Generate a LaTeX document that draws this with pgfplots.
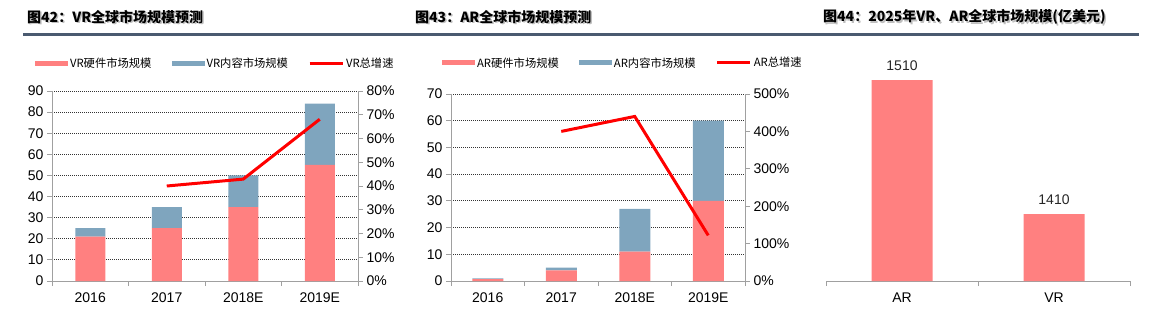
\documentclass[border=0pt]{standalone}
\usepackage{pgfplots}
\pgfplotsset{compat=1.18}
\usepackage{fontspec}
\setmainfont{Liberation Sans}
\newfontfamily\cjk{Noto Sans CJK SC}
\definecolor{hw}{RGB}{255,128,128}
\definecolor{ct}{RGB}{127,165,190}
\definecolor{ax}{RGB}{160,160,160}
\definecolor{tbar}{RGB}{74,90,112}
\pgfplotsset{
  base/.style={scale only axis, anchor=south west,
    font=\fontsize{14}{16}\selectfont,
    /pgf/number format/assume math mode=true,
    /pgf/number format/set thousands separator={},
    axis line style={ax, line width=0.9pt},
    tick style={ax, line width=0.9pt},
    major tick length=5pt, tick align=outside},
  grd/.style={ymajorgrids, grid style={black!80, line width=0.8pt, dash pattern=on 1pt off 1pt}},
  lgd/.style={legend columns=3,
    legend style={draw=none, fill=none, inner sep=0pt, font=\cjk\fontsize{11.3}{13}\selectfont,
      nodes={inner sep=2pt}, /tikz/every even column/.append style={column sep=18pt}}},
  cat/.style={extra x tick style={major tick length=0pt, xticklabel style={yshift=-8pt}}},
}
\begin{document}
\begin{tikzpicture}
\path[use as bounding box] (0,0) rectangle (1160pt,322pt);
% titles
\foreach \x/\t in {27/{图42：VR全球市场规模预测},415/{图43：AR全球市场规模预测},823/{图44：2025年VR、AR全球市场规模(亿美元)}}{
  \node[anchor=west, inner sep=0pt, text=black!25, font=\cjk\bfseries\fontsize{14}{16}\selectfont] at (\x pt+1.5pt,303.5pt) {\t};
  \node[anchor=west, inner sep=0pt, font=\cjk\bfseries\fontsize{14}{16}\selectfont] at (\x pt,305pt) {\t};
}
\fill[tbar] (23pt,286pt) rectangle (1139pt,289pt);

% ---------- Chart 1 ----------
\begin{axis}[base, grd, lgd, cat, at={(52pt,41pt)}, width=306pt, height=190pt,
  xmin=-0.5, xmax=3.5, ymin=0, ymax=90,
  ybar stacked, bar width=30pt,
  axis x line*=bottom, axis y line*=left,
  xtick={-0.5,0.5,1.5,2.5,3.5}, xticklabels={},
  extra x ticks={0,1,2,3}, extra x tick labels={2016,2017,2018E,2019E},
  ytick={0,10,...,90},
  legend style={at={(-0.056,1.147)}, anchor=west}]
\addplot[fill=hw, draw=none, legend image code/.code={\fill[hw] (0pt,-2.5pt) rectangle (33pt,2.5pt);}]
  coordinates {(0,21) (1,25) (2,35) (3,55)};
\addplot[fill=ct, draw=none, legend image code/.code={\fill[ct] (0pt,-2.5pt) rectangle (33pt,2.5pt);}]
  coordinates {(0,4) (1,10) (2,15) (3,29)};
\addlegendimage{legend image code/.code={\draw[red, line width=3pt] (0pt,0pt) -- (33pt,0pt);}}
\legend{VR硬件市场规模,VR内容市场规模,VR总增速}
\end{axis}
\begin{axis}[base, at={(52pt,41pt)}, width=306pt, height=190pt,
  xmin=-0.5, xmax=3.5, ymin=0, ymax=80,
  axis x line=none, axis y line*=right,
  ytick={0,10,...,80}, yticklabel={\pgfmathprintnumber{\tick}\%}]
\addplot[red, line width=3pt] coordinates {(1,40) (2,42.9) (3,68.1)};
\end{axis}

% ---------- Chart 2 ----------
\begin{axis}[base, grd, lgd, cat, at={(451pt,41pt)}, width=294pt, height=187pt,
  xmin=-0.5, xmax=3.5, ymin=0, ymax=70,
  ybar stacked, bar width=31pt,
  axis x line*=bottom, axis y line*=left,
  xtick={-0.5,0.5,1.5,2.5,3.5}, xticklabels={},
  extra x ticks={0,1,2,3}, extra x tick labels={2016,2017,2018E,2019E},
  ytick={0,10,...,70},
  legend style={at={(-0.031,1.166)}, anchor=west}]
\addplot[fill=hw, draw=none, legend image code/.code={\fill[hw] (0pt,-2.5pt) rectangle (33pt,2.5pt);}]
  coordinates {(0,0.7) (1,4) (2,11) (3,30)};
\addplot[fill=ct, draw=none, legend image code/.code={\fill[ct] (0pt,-2.5pt) rectangle (33pt,2.5pt);}]
  coordinates {(0,0.3) (1,1) (2,16) (3,30)};
\addlegendimage{legend image code/.code={\draw[red, line width=3pt] (0pt,0pt) -- (33pt,0pt);}}
\legend{AR硬件市场规模,AR内容市场规模,AR总增速}
\end{axis}
\begin{axis}[base, at={(451pt,41pt)}, width=294pt, height=187pt,
  xmin=-0.5, xmax=3.5, ymin=0, ymax=500,
  axis x line=none, axis y line*=right,
  ytick={0,100,...,500}, yticklabel={\pgfmathprintnumber{\tick}\%}]
\addplot[red, line width=3pt] coordinates {(1,400) (2,440) (3,122)};
\end{axis}

% ---------- Chart 3 ----------
\begin{axis}[base, cat, at={(826pt,41pt)}, width=304pt, height=241.2pt,
  xmin=-0.5, xmax=1.5, ymin=1360, ymax=1540,
  ybar, bar width=61pt,
  axis y line=none, axis x line*=bottom,
  xtick={-0.5,0.5,1.5}, xticklabels={},
  extra x ticks={0,1}, extra x tick labels={AR,VR},
  nodes near coords, nodes near coords style={font=\fontsize{14}{16}\selectfont, text=black!85, yshift=6pt}]
\addplot[fill=hw, draw=none] coordinates {(0,1510) (1,1410)};
\end{axis}
\end{tikzpicture}
\end{document}
